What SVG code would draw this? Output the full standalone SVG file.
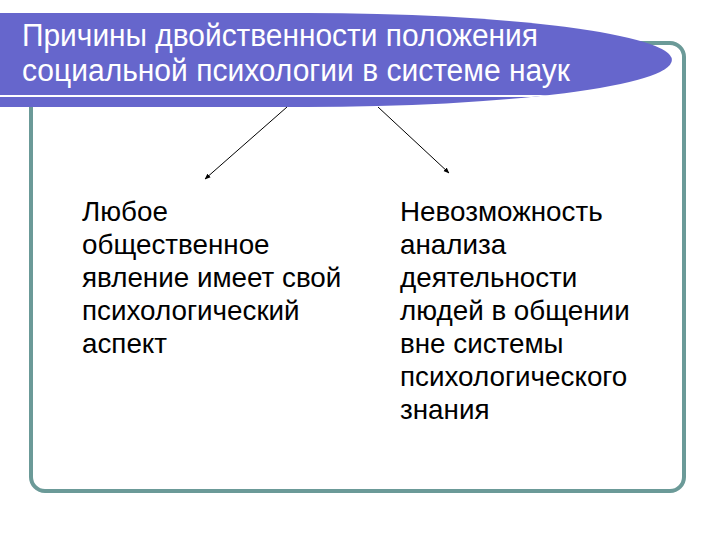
<svg xmlns="http://www.w3.org/2000/svg" width="720" height="540" viewBox="0 0 720 540">
<defs>
<style>
.title{font-family:"Liberation Sans",Arial,sans-serif;font-size:31px;fill:#ffffff}
.body{font-family:"Liberation Sans",Arial,sans-serif;font-size:27.8px;fill:#000000}
.conn{stroke:#000;stroke-width:1;fill:none;marker-end:url(#ah)}
</style>
<marker id="ah" viewBox="0 0 10 10" refX="9" refY="5" markerWidth="6" markerHeight="6" orient="auto" markerUnits="userSpaceOnUse">
<path d="M0,1 L10,5 L0,9 Z" fill="#000"/>
</marker>
<clipPath id="bannerClip">
<path d="M0,13 L306,13 A366,47 0 0 1 306,107 L0,107 Z"/>
</clipPath>
</defs>
<rect width="720" height="540" fill="#ffffff"/>
<g id="frame">
<rect x="31" y="43" width="653" height="448" rx="14" ry="14" fill="none" stroke="#6B9A98" stroke-width="4"/>
</g>
<g id="banner">
<path d="M0,13 L306,13 A366,47 0 0 1 306,107 L0,107 Z" fill="#6666CC"/>
<line x1="0" y1="96" x2="720" y2="96" stroke="#ffffff" stroke-width="2" clip-path="url(#bannerClip)"/>
<text class="title" x="22" y="46" textLength="516" lengthAdjust="spacingAndGlyphs">Причины двойственности положения</text>
<text class="title" x="22" y="81" textLength="548" lengthAdjust="spacingAndGlyphs">социальной психологии в системе наук</text>
</g>
<g id="connectors">
<line class="conn" x1="287" y1="107" x2="205" y2="179"/>
<line class="conn" x1="378" y1="107" x2="449" y2="173"/>
</g>
<g id="left">
<text class="body" x="82" y="221">Любое</text>
<text class="body" x="82" y="254">общественное</text>
<text class="body" x="82" y="287">явление имеет свой</text>
<text class="body" x="82" y="320">психологический</text>
<text class="body" x="82" y="353">аспект</text>
</g>
<g id="right">
<text class="body" x="400" y="221">Невозможность</text>
<text class="body" x="400" y="254">анализа</text>
<text class="body" x="400" y="287">деятельности</text>
<text class="body" x="400" y="320">людей в общении</text>
<text class="body" x="400" y="353">вне системы</text>
<text class="body" x="400" y="386">психологического</text>
<text class="body" x="400" y="419">знания</text>
</g>
</svg>
